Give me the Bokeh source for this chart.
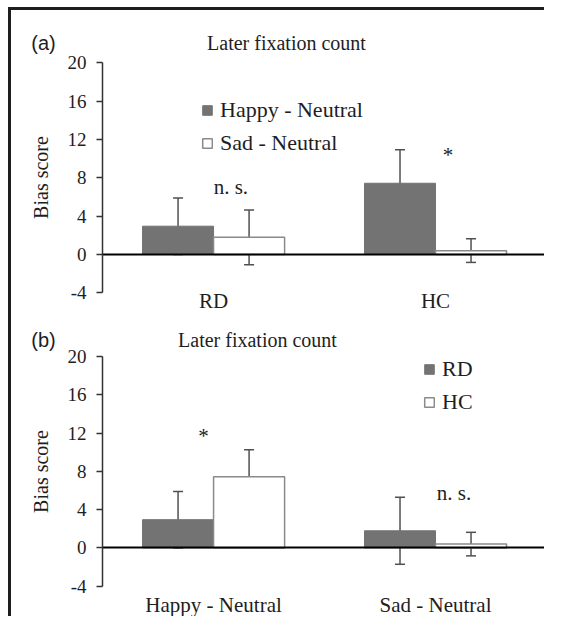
from bokeh.plotting import figure
from bokeh.models import (Range1d, ColumnDataSource, Whisker, TeeHead, Label, Legend,
                          LegendItem, FixedTicker, LinearAxis)
from bokeh.transform import dodge
from bokeh.layouts import column
from bokeh.embed import file_html
from bokeh.resources import INLINE
from bokeh.core.properties import value

# ---------------- data ----------------
title_text = "Later fixation count"
y_label = "Bias score"
y_ticks = [-4, 0, 4, 8, 12, 16, 20]
y_tick_labels = ["-4", "0", "4", "8", "12", "16", "20"]

# panel (a)
groups_a = ["RD", "HC"]
series_a = ["Happy - Neutral", "Sad - Neutral"]
happy_a = [2.95, 7.43]
happy_err_a = [2.95, 3.50]
sad_a = [1.79, 0.40]
sad_err_a = [2.86, 1.23]
ann_a_text = ["n. s.", "*"]
ann_a_idx = [0, 1]
ann_a_y = [7.0, 10.35]

# panel (b)
conds_b = ["Happy - Neutral", "Sad - Neutral"]
series_b = ["RD", "HC"]
rd_b = [2.95, 1.79]
rd_err_b = [2.95, 3.50]
hc_b = [7.44, 0.40]
hc_err_b = [2.82, 1.23]
ann_b_text = ["*", "n. s."]
ann_b_idx = [0, 1]
ann_b_y = [11.65, 5.75]

# ---------------- style ----------------
SERIF = "Liberation Serif"
SANS = "Liberation Sans"
GRAY = "#737373"
ERR = "#505050"
OUTL = "#8a8a8a"
TXT = "#1e1e1e"
FRAME = "#1e1e1e"
BW = 0.32
W = 544


def make_panel(cats, v1, e1, v2, e2, names, ann_text, ann_idx, ann_y, ann_dx,
               tag, tag_xy, title_xy, legend_loc, height, y_lo, y_hi, xlab_standoff):
    xs = [i + 0.5 for i in range(len(cats))]
    p = figure(x_range=Range1d(-0.46, 1.991), y_range=Range1d(y_lo, y_hi),
               width=W, height=height, title=None, min_border=0,
               x_axis_location=None, y_axis_location=None,
               toolbar_location=None, output_backend="svg")
    p.outline_line_color = None
    p.grid.grid_line_color = None
    p.background_fill_color = None
    p.border_fill_color = None

    src = ColumnDataSource(dict(
        x=xs, v1=v1, v2=v2,
        lo1=[a - b for a, b in zip(v1, e1)], hi1=[a + b for a, b in zip(v1, e1)],
        lo2=[a - b for a, b in zip(v2, e2)], hi2=[a + b for a, b in zip(v2, e2)],
    ))
    r1 = p.vbar(x=dodge("x", -BW / 2), top="v1", width=BW, source=src,
                fill_color=GRAY, line_color=GRAY, line_width=1)
    r2 = p.vbar(x=dodge("x", BW / 2), top="v2", width=BW, source=src,
                fill_color="white", line_color=OUTL, line_width=1.5)

    for off, lo, hi in ((-BW / 2, "lo1", "hi1"), (BW / 2, "lo2", "hi2")):
        w = Whisker(source=src, base=dodge("x", off), lower=lo, upper=hi,
                    line_color=ERR, line_width=1.5,
                    upper_head=TeeHead(size=10, line_color=ERR, line_width=1.5),
                    lower_head=TeeHead(size=10, line_color=ERR, line_width=1.5))
        p.add_layout(w)

    for t, i, y, dx in zip(ann_text, ann_idx, ann_y, ann_dx):
        s = ColumnDataSource(dict(x=[xs[i]], y=[y], t=[t]))
        p.text(x=dodge("x", dx), y="y", text="t", source=s,
               text_font=value(SERIF), text_font_size=value("21px"), text_color=TXT,
               text_align="center", text_baseline="alphabetic")

    # y axis
    yax = LinearAxis(fixed_location=0, bounds=(-4, 20),
                     ticker=FixedTicker(ticks=y_ticks),
                     major_label_overrides=dict(zip(y_ticks, y_tick_labels)))
    yax.axis_line_color = "#333333"
    yax.axis_line_width = 1.5
    yax.major_tick_line_color = "#333333"
    yax.major_tick_line_width = 1.5
    yax.major_tick_out = 6
    yax.major_tick_in = 0
    yax.minor_tick_line_color = None
    yax.major_label_standoff = 10
    yax.major_label_text_font = SERIF
    yax.major_label_text_font_size = "19px"
    yax.major_label_text_color = TXT
    yax.axis_label = y_label
    yax.axis_label_text_font = SERIF
    yax.axis_label_text_font_size = "20px"
    yax.axis_label_text_font_style = "normal"
    yax.axis_label_text_color = TXT
    yax.axis_label_standoff = 13
    p.add_layout(yax, "left")

    # zero line (x axis through 0)
    zax = LinearAxis(fixed_location=0, bounds=(0, 2), ticker=FixedTicker(ticks=[]))
    zax.axis_line_color = "black"
    zax.axis_line_width = 2
    zax.major_tick_line_color = None
    zax.minor_tick_line_color = None
    zax.major_label_text_font_size = "0px"
    p.add_layout(zax, "below")

    # category labels
    cax = LinearAxis(fixed_location=-4, ticker=FixedTicker(ticks=xs),
                     major_label_overrides=dict(zip(xs, cats)))
    cax.axis_line_color = None
    cax.major_tick_line_color = None
    cax.minor_tick_line_color = None
    cax.major_tick_out = 0
    cax.major_tick_in = 0
    cax.major_label_standoff = xlab_standoff
    cax.major_label_text_font = SERIF
    cax.major_label_text_font_size = "21px"
    cax.major_label_text_color = TXT
    p.add_layout(cax, "below")

    legend = Legend(items=[LegendItem(label=names[0], renderers=[r1]),
                           LegendItem(label=names[1], renderers=[r2])],
                    location=legend_loc, orientation="vertical",
                    border_line_color=None, background_fill_alpha=0,
                    padding=0, margin=0, spacing=7,
                    glyph_width=12, glyph_height=12, label_standoff=7,
                    label_text_font=SERIF, label_text_font_size="22px",
                    label_text_color=TXT)
    p.add_layout(legend)

    p.add_layout(Label(x=tag_xy[0], y=tag_xy[1], x_units="screen", y_units="screen",
                       text=tag, text_font=SANS, text_font_size="20px", text_color=TXT,
                       text_align="center", text_baseline="middle"))
    p.add_layout(Label(x=title_xy[0], y=title_xy[1], x_units="screen", y_units="screen",
                       text=title_text, text_font=SERIF, text_font_size="20px",
                       text_color=TXT, text_align="center", text_baseline="middle"))
    return p


p1 = make_panel(groups_a, happy_a, happy_err_a, sad_a, sad_err_a, series_a,
                ann_a_text, ann_a_idx, ann_a_y, [0.078, 0.056],
                "(a)", (43, 273), (286, 273), (201, 159),
                height=315, y_lo=-6.369, y_hi=26.5, xlab_standoff=-4)
p2 = make_panel(conds_b, rd_b, rd_err_b, hc_b, hc_err_b, series_b,
                ann_b_text, ann_b_idx, ann_b_y, [-0.045, 0.083],
                "(b)", (43, 277), (257, 277), (423, 201),
                height=301, y_lo=-7.166, y_hi=24.284, xlab_standoff=7)

frame_css = {
    "background-color": "white",
    "background-image": "linear-gradient(#1e1e1e, #1e1e1e), linear-gradient(#1e1e1e, #1e1e1e)",
    "background-size": "3px 100%, 100% 3px",
    "background-position": "8px 7px, 8px 7px",
    "background-repeat": "no-repeat",
}
layout = column(p1, p2, styles=frame_css)

open("out.html", "w").write(file_html(layout, INLINE))
